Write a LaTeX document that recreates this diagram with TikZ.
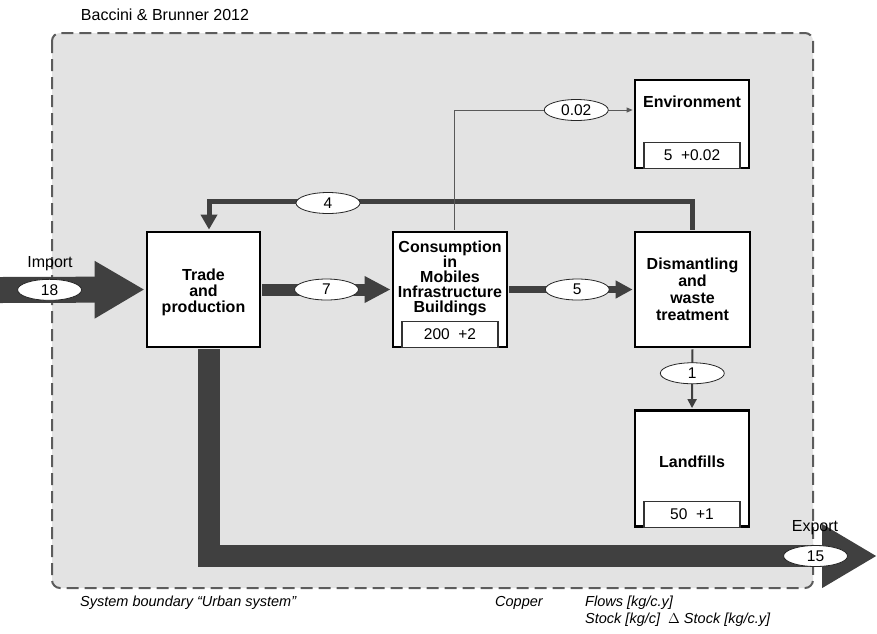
\documentclass[tikz,border=0pt]{standalone}
\usepackage{fontspec}
\setmainfont{Liberation Sans}
\usetikzlibrary{arrows.meta,shapes.geometric}
\definecolor{flowgray}{HTML}{404040}
\definecolor{boundfill}{HTML}{E3E3E3}
\definecolor{boundline}{HTML}{5C5C5C}

\begin{document}
\begin{tikzpicture}[x=1pt, y=-1pt,
  proc/.style={draw, line width=2.4pt, fill=white, inner sep=0pt},
  stockbox/.style={draw=black!80, line width=1.2pt, fill=white, minimum width=96pt, minimum height=26pt, anchor=south, inner sep=0pt, font=\fontsize{15.5}{16}\selectfont},
  proctext/.style={align=center, inner sep=0pt, font=\fontsize{16}{16}\selectfont\bfseries},
  val/.style={ellipse, draw=black!85, text=black, line width=0.8pt, fill=white, minimum width=64pt, minimum height=21pt, inner sep=0pt, font=\fontsize{15.5}{16}\selectfont},
  plain/.style={inner sep=0pt, font=\fontsize{16}{16}\selectfont},
  note/.style={anchor=west, inner sep=0pt, font=\fontsize{14.5}{16}\selectfont\itshape}]
\path[use as bounding box] (0,0) rectangle (877,633);
\draw[boundline, fill=boundfill, line width=2pt, dash pattern=on 12pt off 6pt, rounded corners=8pt] (52,33) rectangle (813,588);
\node[plain] (title) at (165,15) {Baccini \& Brunner 2012};

\node[proc, minimum width=113, minimum height=115] (Trade) at (203.5,289.5) {};
\node[proc, minimum width=114, minimum height=115] (Cons) at (450,289.5) {};
\node[proc, minimum width=115, minimum height=115] (Dis) at (692.5,289.5) {};
\node[proc, minimum width=114, minimum height=88] (Env) at (692,124) {};
\node[proc, minimum width=114, minimum height=116] (Land) at (692,468.5) {};

\node[proctext] (TradeText) at (203.5,292) {Trade\\and\\production};
\node[proctext, font=\fontsize{16}{15}\selectfont\bfseries] (ConsText) at (450,278) {Consumption\\in\\Mobiles\\Infrastructure\\Buildings};
\node[proctext, font=\fontsize{16}{17}\selectfont\bfseries] (DisText) at (692.5,289) {Dismantling\\and\\waste\\treatment};
\node[proctext] (EnvText) at (692,102) {Environment};
\node[proctext] (LandText) at (692,462) {Landfills};

\node[stockbox] (ConsStock) at (Cons.south) {200\ \ +2};
\node[stockbox] (EnvStock) at (Env.south) {5\ \ +0.02};
\node[stockbox] (LandStock) at (Land.south) {50\ \ +1};

\coordinate (importstart) at (0,290);
\coordinate (exportend) at (877,556);

\draw[flowgray, line width=26pt, -{Triangle[length=50pt, width=54pt]}, shorten >=1.2pt] (importstart) -- (Trade.west)
  node[val, pos=0.34] (impval) {18};
\node[plain] (implabel) at (50,264) {Import};

\draw[flowgray, line width=22pt, line join=miter, -{Triangle[length=55pt, width=60pt]}, shorten <=1.2pt] ([xshift=5.5pt]Trade.south) |- (exportend)
  node[val, pos=0.954] (expval) {15};
\node[plain] (explabel) at (815,528) {Export};

\draw[flowgray, line width=12pt, -{Triangle[length=26pt, width=25pt]}, shorten <=1.2pt, shorten >=1.2pt] (Trade.east) -- (Cons.west)
  node[val, midway] (tcval) {7};
\draw[flowgray, line width=7pt, -{Triangle[length=17pt, width=17pt]}, shorten <=1.2pt, shorten >=1.2pt] (Cons.east) -- (Dis.west)
  node[val, pos=0.55] (cdval) {5};
\draw[flowgray, line width=5pt, line join=miter, -{Triangle[length=15pt, width=16pt]}, shorten <=1.2pt, shorten >=1.2pt] (Dis.north) -- ++(0,-29) -| ([xshift=5.5pt]Trade.north);
\node[val] (dtval) at (328,203) {4};
\draw[black!65, line width=1pt, -{Triangle[length=6pt, width=5pt]}, shorten <=1.2pt, shorten >=1.2pt] ([xshift=4pt]Cons.north) |- ([yshift=14pt]Env.west)
  node[val, pos=0.84] (ceval) {0.02};
\draw[flowgray, line width=2pt, -{Triangle[length=9pt, width=9pt]}, shorten <=1.2pt, shorten >=1.2pt] (Dis.south) -- (Land.north)
  node[val, pos=0.41] (dlval) {1};

\node[note] (sysnote) at (80,603) {System boundary “Urban system”};
\node[note] (copper) at (495,603) {Copper};
\node[note] (flows) at (585,603) {Flows [kg/c.y]};
\node[note] (stocks) at (585,620) {Stock [kg/c]\ \ $\Delta$ Stock [kg/c.y]};
\end{tikzpicture}
\end{document}
